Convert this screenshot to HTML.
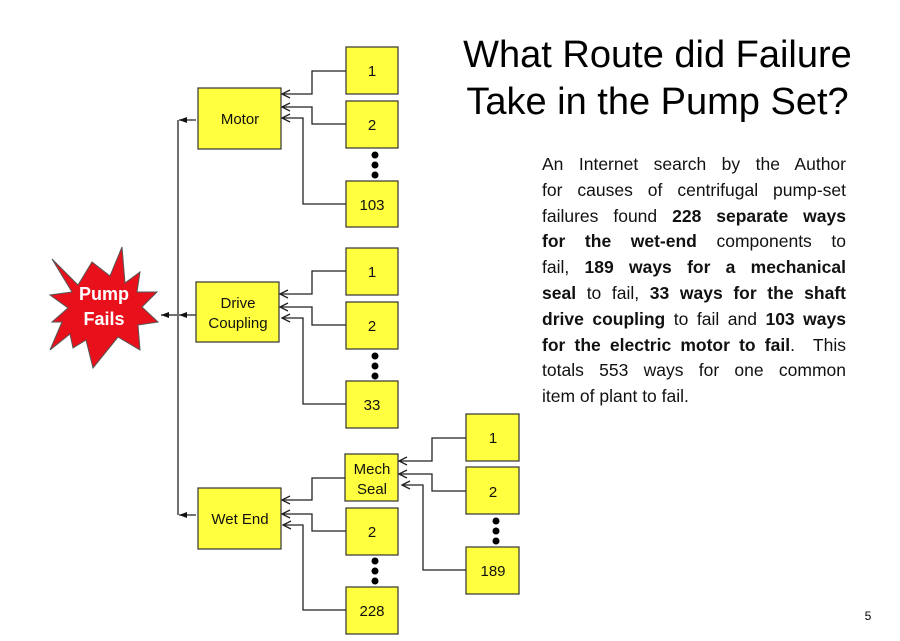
<!DOCTYPE html>
<html><head><meta charset="utf-8"><style>
body{margin:0;background:#fff;}
svg{display:block;font-family:"Liberation Sans",sans-serif;}
.b{fill:#ffff3f;stroke:#333;stroke-width:1.2;}
.l{fill:none;stroke:#222;stroke-width:1.3;}
.t{font-family:"Liberation Sans",sans-serif;font-size:15px;text-anchor:middle;fill:#111;}
.p{position:absolute;left:542px;top:152px;width:304px;font-family:"Liberation Sans",sans-serif;font-size:17.5px;line-height:25.8px;color:#111;}
.p div{text-align:justify;text-align-last:justify;white-space:nowrap;}
.p div.last{text-align-last:left;}
.h{position:absolute;left:430px;top:32px;width:455px;text-align:center;font-family:"Liberation Sans",sans-serif;font-size:38px;line-height:47px;color:#000;}
</style></head><body>
<div style="position:relative;width:900px;height:641px;overflow:hidden;">
<svg width="900" height="641" viewBox="0 0 900 641">
<defs>
<marker id="o" markerWidth="10" markerHeight="10" refX="9" refY="5" orient="auto" markerUnits="userSpaceOnUse"><path d="M1,1 L9,5 L1,9" fill="none" stroke="#222" stroke-width="1.3"/></marker>
<marker id="f" markerWidth="10" markerHeight="8" refX="8" refY="4" orient="auto" markerUnits="userSpaceOnUse"><path d="M0,1 L8,4 L0,7z" fill="#111"/></marker>
</defs>
<polygon points="52,259 78,285 92,262 110,276 122,247 125,283 140,272 137,292 157,292 142,307 158,322 138,325 140,350 118,337 93,368 86,340 73,348 70,334 50,350 62,322 52,322 68,308 50,295 72,292" fill="#e8101a" stroke="#555" stroke-width="1"/>
<text x="104" y="300" font-size="18" font-weight="bold" fill="#fff" text-anchor="middle" font-family="Liberation Sans,sans-serif">Pump</text>
<text x="104" y="325" font-size="18" font-weight="bold" fill="#fff" text-anchor="middle" font-family="Liberation Sans,sans-serif">Fails</text>
<path class="l" d="M178,120 V515"/>
<path class="l" d="M196,120 H179" marker-end="url(#f)"/>
<path class="l" d="M196,315 H179" marker-end="url(#f)"/>
<path class="l" d="M196,515 H179" marker-end="url(#f)"/>
<path class="l" d="M177,315 H161" marker-end="url(#f)"/>
<rect class="b" x="198" y="88" width="83" height="61"/><text class="t" x="240" y="124">Motor</text>
<rect class="b" x="346" y="47" width="52" height="47"/><text class="t" x="372" y="76">1</text>
<rect class="b" x="346" y="101" width="52" height="47"/><text class="t" x="372" y="130">2</text>
<rect class="b" x="346" y="181" width="52" height="46"/><text class="t" x="372" y="210">103</text>
<circle cx="375" cy="155" r="3.5"/><circle cx="375" cy="165" r="3.5"/><circle cx="375" cy="175" r="3.5"/>
<path class="l" d="M346,71 H312 V94 H282" marker-end="url(#o)"/>
<path class="l" d="M346,124 H312 V107 H282" marker-end="url(#o)"/>
<path class="l" d="M346,204 H303 V118 H282" marker-end="url(#o)"/>
<rect class="b" x="196" y="282" width="83" height="60"/><text class="t" x="238" y="308">Drive</text><text class="t" x="238" y="328">Coupling</text>
<rect class="b" x="346" y="248" width="52" height="47"/><text class="t" x="372" y="277">1</text>
<rect class="b" x="346" y="302" width="52" height="47"/><text class="t" x="372" y="331">2</text>
<rect class="b" x="346" y="381" width="52" height="47"/><text class="t" x="372" y="410">33</text>
<circle cx="375" cy="356" r="3.5"/><circle cx="375" cy="366" r="3.5"/><circle cx="375" cy="376" r="3.5"/>
<path class="l" d="M346,271 H312 V294 H280" marker-end="url(#o)"/>
<path class="l" d="M346,325 H312 V307 H280" marker-end="url(#o)"/>
<path class="l" d="M346,404 H303 V318 H282" marker-end="url(#o)"/>
<rect class="b" x="198" y="488" width="83" height="61"/><text class="t" x="240" y="524">Wet End</text>
<rect class="b" x="345" y="454" width="53" height="47"/><text class="t" x="372" y="474">Mech</text><text class="t" x="372" y="494">Seal</text>
<rect class="b" x="346" y="508" width="52" height="47"/><text class="t" x="372" y="537">2</text>
<rect class="b" x="346" y="587" width="52" height="47"/><text class="t" x="372" y="616">228</text>
<circle cx="375" cy="561" r="3.5"/><circle cx="375" cy="571" r="3.5"/><circle cx="375" cy="581" r="3.5"/>
<path class="l" d="M345,478 H312 V500 H282" marker-end="url(#o)"/>
<path class="l" d="M346,531 H312 V514 H282" marker-end="url(#o)"/>
<path class="l" d="M346,610 H303 V525 H283" marker-end="url(#o)"/>
<rect class="b" x="466" y="414" width="53" height="47"/><text class="t" x="493" y="443">1</text>
<rect class="b" x="466" y="467" width="53" height="47"/><text class="t" x="493" y="497">2</text>
<rect class="b" x="466" y="547" width="53" height="47"/><text class="t" x="493" y="576">189</text>
<circle cx="496" cy="521" r="3.5"/><circle cx="496" cy="531" r="3.5"/><circle cx="496" cy="541" r="3.5"/>
<path class="l" d="M466,438 H432 V461 H399" marker-end="url(#o)"/>
<path class="l" d="M466,491 H432 V474 H399" marker-end="url(#o)"/>
<path class="l" d="M466,570 H423 V485 H402" marker-end="url(#o)"/>
<text x="868" y="620" font-size="12" text-anchor="middle" font-family="Liberation Sans,sans-serif">5</text>
</svg>
<div class="h">What Route did Failure<br>Take in the Pump Set?</div>
<div class="p">
<div>An Internet search by the Author</div>
<div>for causes of centrifugal pump-set</div>
<div>failures found <b>228 separate ways</b></div>
<div><b>for the wet-end</b> components to</div>
<div>fail, <b>189 ways for a mechanical</b></div>
<div><b>seal</b> to fail, <b>33 ways for the shaft</b></div>
<div><b>drive coupling</b> to fail and <b>103 ways</b></div>
<div><b>for the electric motor to fail</b>.&nbsp; This</div>
<div>totals 553 ways for one common</div>
<div class="last">item of plant to fail.</div>
</div>
</div>
</body></html>
